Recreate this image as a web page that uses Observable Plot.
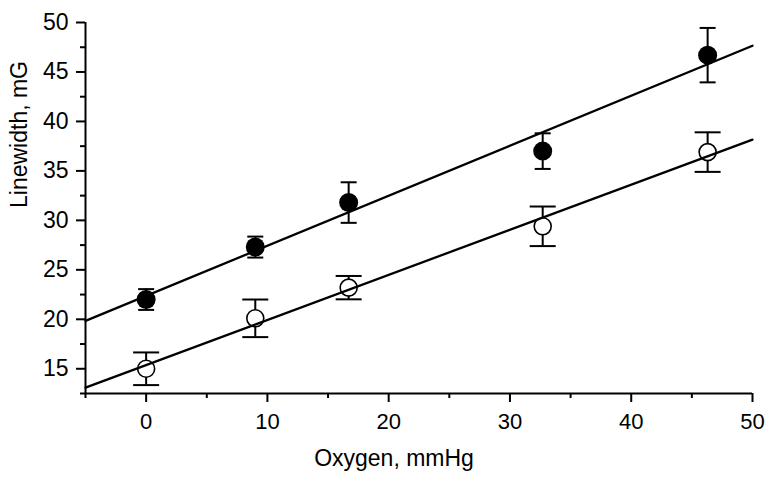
<!DOCTYPE html>
<html>
<head>
<meta charset="utf-8">
<script src="https://cdn.jsdelivr.net/npm/d3@7"></script>
<script src="https://cdn.jsdelivr.net/npm/@observablehq/plot@0.6"></script>
<style>
  html, body { margin: 0; padding: 0; background: #fff; }
  #chart { width: 774px; height: 479px; }
</style>
</head>
<body>
<div id="chart"></div>
<script>
// ---- data ----
const oxygen      = [0, 9.0, 16.7, 32.7, 46.3];
const filledWidth = [22.0, 27.3, 31.8, 37.0, 46.7];
const filledErr   = [1.05, 1.06, 2.05, 1.8, 2.75];
const openWidth   = [15.0, 20.1, 23.2, 29.4, 36.9];
const openErr     = [1.65, 1.9, 1.18, 2.0, 2.0];

const xDomain = [-5, 50];
const yDomain = [12.5, 50];
const xMajorTicks = [0, 10, 20, 30, 40, 50];
const xMinorTicks = [-5, 5, 15, 25, 35, 45];
const yMajorTicks = [15, 20, 25, 30, 35, 40, 45, 50];
const yMinorTicks = [12.5, 17.5, 22.5, 27.5, 32.5, 37.5, 42.5, 47.5];
const xLabel = "Oxygen, mmHg";
const yLabel = "Linewidth, mG";

// ---- derived tables ----
const filled = oxygen.map((x, i) => ({x, y: filledWidth[i], e: filledErr[i]}));
const open   = oxygen.map((x, i) => ({x, y: openWidth[i], e: openErr[i]}));

function fitLine(xs, ys) {
  const mx = d3.mean(xs), my = d3.mean(ys);
  const b = d3.sum(xs, (x, i) => (x - mx) * (ys[i] - my)) / d3.sum(xs, x => (x - mx) ** 2);
  const a = my - b * mx;
  return xDomain.map(x => ({x, y: a + b * x}));
}
const filledFit = fitLine(oxygen, filledWidth);
const openFit = fitLine(oxygen, openWidth);

const cap = hw => ({draw(ctx) { ctx.moveTo(-hw, 0); ctx.lineTo(hw, 0); }});

function errorMarks(data, hw) {
  return [
    Plot.ruleX(data, {x: "x", y1: d => d.y - d.e, y2: d => d.y + d.e, stroke: "black", strokeWidth: 2}),
    Plot.dot(data, {x: "x", y: d => d.y + d.e, symbol: cap(hw), fill: "none", stroke: "black", strokeWidth: 2}),
    Plot.dot(data, {x: "x", y: d => d.y - d.e, symbol: cap(hw), fill: "none", stroke: "black", strokeWidth: 2})
  ];
}

const font = "'Liberation Sans', Arial, Helvetica, sans-serif";

const chart = Plot.plot({
  width: 774,
  height: 479,
  marginLeft: 85,
  marginRight: 22,
  marginTop: 22,
  marginBottom: 86,
  style: {fontFamily: font, color: "black", background: "white", overflow: "visible"},
  x: {domain: xDomain, label: null},
  y: {domain: yDomain, label: null},
  marks: [
    // axes
    Plot.axisX({ticks: xMajorTicks, tickSize: 9, tickPadding: 11, fontSize: 22, strokeWidth: 2, tickFormat: d => d, label: null}),
    Plot.axisX({ticks: xMinorTicks, tickSize: 5, strokeWidth: 2, tickFormat: () => "", label: null}),
    Plot.axisY({ticks: yMajorTicks, tickSize: 9, tickPadding: 8, fontSize: 23, strokeWidth: 2, tickFormat: d => d, label: null}),
    Plot.axisY({ticks: yMinorTicks, tickSize: 5, strokeWidth: 2, tickFormat: () => "", label: null}),
    Plot.ruleY([yDomain[0]], {stroke: "black", strokeWidth: 2}),
    Plot.ruleX([xDomain[0]], {stroke: "black", strokeWidth: 2}),
    // axis titles
    Plot.text([xLabel], {frameAnchor: "bottom", text: d => d, dx: -25, dy: 72, lineAnchor: "bottom", fontSize: 23, fill: "black"}),
    Plot.text([yLabel], {frameAnchor: "left", text: d => d, dx: -66, rotate: -90, fontSize: 23, fill: "black"}),
    // error bars
    ...errorMarks(filled, 8),
    ...errorMarks(open, 13),
    // markers
    Plot.dot(filled, {x: "x", y: "y", r: 9.5, fill: "black", stroke: "none"}),
    Plot.dot(open, {x: "x", y: "y", r: 8.5, fill: "white", stroke: "black", strokeWidth: 1.6}),
    // fit lines
    Plot.line(filledFit, {x: "x", y: "y", stroke: "black", strokeWidth: 2.3}),
    Plot.line(openFit, {x: "x", y: "y", stroke: "black", strokeWidth: 2.3})
  ]
});
document.getElementById("chart").appendChild(chart);
</script>
</body>
</html>
